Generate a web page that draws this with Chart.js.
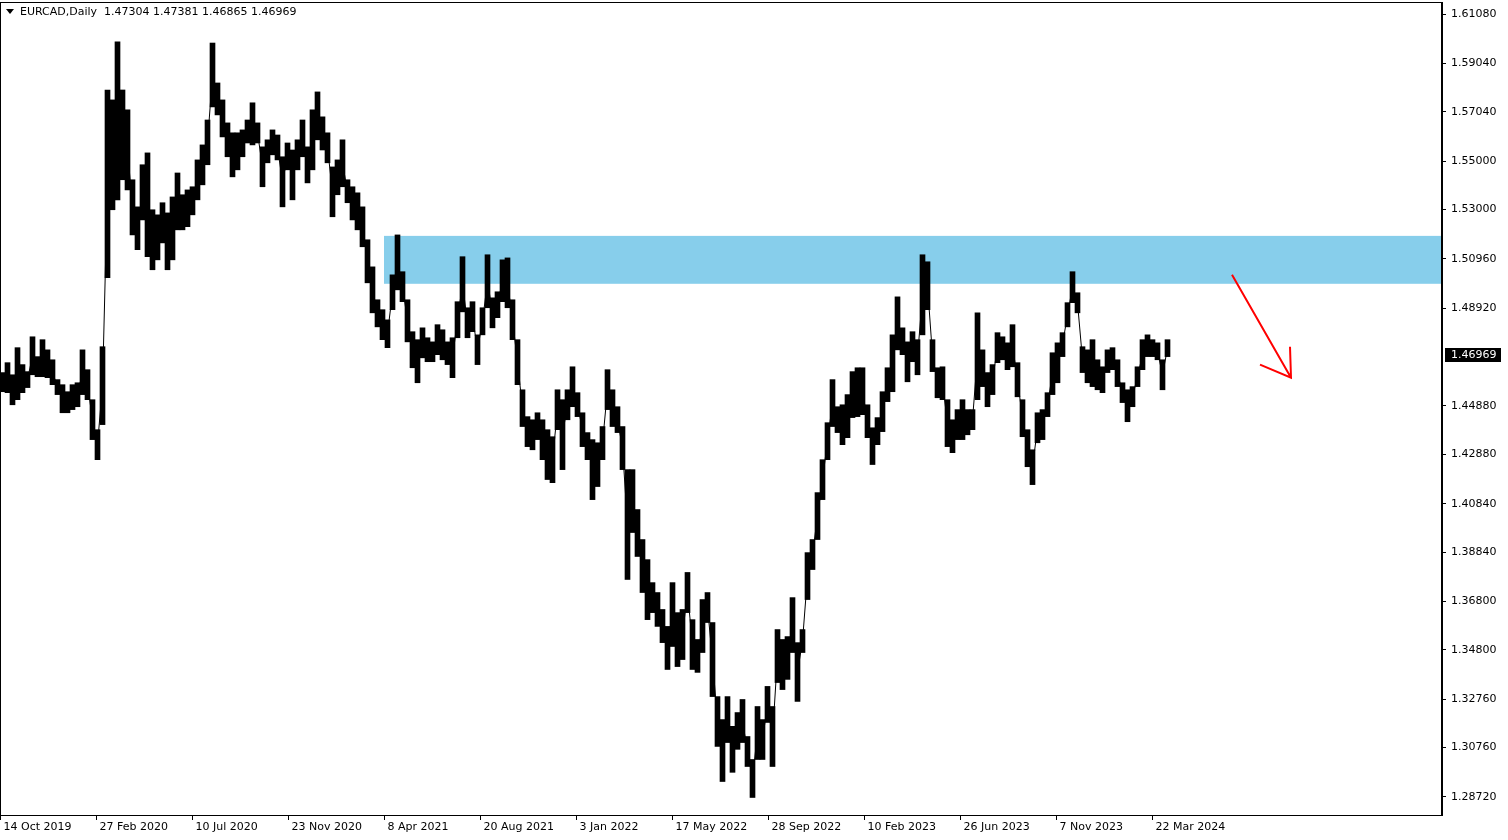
<!DOCTYPE html>
<html>
<head>
<meta charset="utf-8">
<script src="https://cdn.jsdelivr.net/npm/chart.js@4.4.0/dist/chart.umd.min.js"></script>
<style>
html, body { margin: 0; padding: 0; background: #fff; }
#wrap { width: 1508px; height: 840px; }
</style>
</head>
<body>
<div id="wrap"><canvas id="chart" width="1508" height="840"></canvas></div>
<script>
// chart data (one block = 5 daily bars)
const symbol = 'EURCAD,Daily';
const lastBar = ['1.47304', '1.47381', '1.46865', '1.46969'];
const lastClose = 1.46969;
const barStep = 5;

const highs = [
    1.4626,1.4667,1.4617,1.4729,1.4659,1.4630,1.4774,1.4692,1.4762,1.4720,
    1.4679,1.4597,1.4576,1.4547,1.4576,1.4584,1.4720,1.4638,1.4514,1.4390,
    1.4733,1.5794,1.5753,1.5993,1.5794,1.5712,1.5423,1.5311,1.5485,1.5534,
    1.5299,1.5278,1.5328,1.5286,1.5352,1.5451,1.5361,1.5381,1.5394,1.5505,
    1.5567,1.5670,1.5988,1.5823,1.5753,1.5658,1.5617,1.5617,1.5629,1.5670,
    1.5741,1.5658,1.5559,1.5588,1.5629,1.5608,1.5518,1.5575,1.5546,1.5588,
    1.5670,1.5559,1.5712,1.5786,1.5683,1.5617,1.5476,1.5505,1.5588,1.5423,
    1.5394,1.5369,1.5311,1.5175,1.5063,1.4927,1.4886,1.4844,1.5030,1.5195,
    1.5043,1.4927,1.4795,1.4762,1.4811,1.4770,1.4753,1.4824,1.4803,1.4753,
    1.4770,1.4919,1.5105,1.4894,1.4919,1.4782,1.4894,1.5113,1.4935,1.4960,
    1.5092,1.5100,1.4927,1.4762,1.4555,1.4444,1.4431,1.4460,1.4431,1.4390,
    1.4361,1.4555,1.4514,1.4555,1.4650,1.4543,1.4460,1.4378,1.4349,1.4336,
    1.4403,1.4638,1.4555,1.4485,1.4403,1.4225,1.4225,1.4060,1.3936,1.3853,
    1.3758,1.3717,1.3647,1.3577,1.3758,1.3634,1.3647,1.3800,1.3605,1.3523,
    1.3688,1.3717,1.3593,1.3287,1.3192,1.3287,1.3164,1.3221,1.3275,1.3122,
    1.3027,1.3246,1.3192,1.3329,1.3246,1.3564,1.3523,1.3535,1.3696,1.3510,
    1.3564,1.3882,1.3936,1.4130,1.4266,1.4419,1.4597,1.4485,1.4493,1.4535,
    1.4630,1.4646,1.4646,1.4493,1.4398,1.4440,1.4547,1.4646,1.4782,1.4939,
    1.4811,1.4753,1.4795,1.4762,1.5113,1.5084,1.4762,1.4646,1.4650,1.4514,
    1.4431,1.4473,1.4514,1.4473,1.4473,1.4873,1.4720,1.4626,1.4659,1.4791,
    1.4774,1.4749,1.4824,1.4667,1.4514,1.4390,1.4307,1.4460,1.4473,1.4543,
    1.4708,1.4749,1.4791,1.4915,1.5043,1.4956,1.4733,1.4720,1.4762,1.4679,
    1.4650,1.4720,1.4729,1.4679,1.4584,1.4555,1.4568,1.4650,1.4762,1.4782,
    1.4762,1.4749,1.4679,1.4762
];

const lows = [
    1.4547,1.4543,1.4493,1.4514,1.4543,1.4564,1.4617,1.4609,1.4609,1.4605,
    1.4576,1.4535,1.4460,1.4460,1.4473,1.4485,1.4535,1.4514,1.4349,1.4266,
    1.4411,1.5018,1.5299,1.5340,1.5423,1.5381,1.5195,1.5134,1.5257,1.5105,
    1.5051,1.5092,1.5162,1.5051,1.5092,1.5216,1.5216,1.5229,1.5278,1.5340,
    1.5402,1.5485,1.5724,1.5691,1.5600,1.5518,1.5435,1.5464,1.5518,1.5575,
    1.5567,1.5575,1.5394,1.5493,1.5526,1.5505,1.5311,1.5464,1.5340,1.5464,
    1.5518,1.5410,1.5464,1.5588,1.5546,1.5493,1.5270,1.5361,1.5394,1.5328,
    1.5257,1.5216,1.5146,1.4997,1.4873,1.4815,1.4762,1.4729,1.4886,1.4968,
    1.4919,1.4753,1.4646,1.4584,1.4687,1.4671,1.4671,1.4700,1.4679,1.4659,
    1.4605,1.4770,1.4877,1.4770,1.4795,1.4659,1.4782,1.4894,1.4811,1.4853,
    1.4919,1.4894,1.4762,1.4576,1.4403,1.4320,1.4307,1.4349,1.4266,1.4184,
    1.4171,1.4390,1.4225,1.4431,1.4485,1.4444,1.4320,1.4266,1.4101,1.4155,
    1.4266,1.4473,1.4403,1.4378,1.4225,1.3771,1.3965,1.3866,1.3717,1.3605,
    1.3634,1.3577,1.3510,1.3399,1.3494,1.3411,1.3440,1.3634,1.3399,1.3387,
    1.3469,1.3593,1.3287,1.3081,1.2936,1.3097,1.2974,1.3069,1.3097,1.2998,
    1.2870,1.3027,1.3027,1.3180,1.2998,1.3345,1.3316,1.3358,1.3469,1.3267,
    1.3469,1.3688,1.3812,1.3936,1.4101,1.4266,1.4403,1.4378,1.4328,1.4357,
    1.4440,1.4444,1.4452,1.4357,1.4246,1.4328,1.4382,1.4506,1.4547,1.4720,
    1.4700,1.4588,1.4671,1.4617,1.4782,1.4886,1.4630,1.4522,1.4514,1.4320,
    1.4295,1.4349,1.4349,1.4369,1.4390,1.4514,1.4568,1.4485,1.4535,1.4667,
    1.4679,1.4638,1.4650,1.4526,1.4361,1.4237,1.4163,1.4336,1.4349,1.4444,
    1.4535,1.4584,1.4692,1.4815,1.4915,1.4873,1.4626,1.4584,1.4568,1.4555,
    1.4543,1.4626,1.4638,1.4568,1.4502,1.4423,1.4485,1.4568,1.4638,1.4692,
    1.4692,1.4679,1.4555,1.4692
];

// axes
const dateLabels = ['14 Oct 2019', '27 Feb 2020', '10 Jul 2020', '23 Nov 2020', '8 Apr 2021',
    '20 Aug 2021', '3 Jan 2022', '17 May 2022', '28 Sep 2022', '10 Feb 2023',
    '26 Jun 2023', '7 Nov 2023', '22 Mar 2024'];
const dateBars = [0, 96, 192, 288, 384, 480, 576, 672, 768, 864, 960, 1056, 1152];
const priceTicks = [1.61080, 1.59040, 1.57040, 1.55000, 1.53000, 1.50960, 1.48920,
    1.44880, 1.42880, 1.40840, 1.38840, 1.36800, 1.34800, 1.32760, 1.30760, 1.28720];
const priceMin = 1.27976;
const priceMax = 1.61576;
const barsShown = 1442;

// resistance zone and the drawn arrow
const zoneFromBar = 384;
const zoneTop = 1.5191;
const zoneBottom = 1.4993;
const arrowBars = [1232, 1291];
const arrowPrices = [1.5030, 1.4605];
const headBars = [1290, 1260];
const headPrices = [1.4733, 1.4659];

const font = '11px "DejaVu Sans"';

const blocks = highs.map((h, i) => ({ x: i * barStep + barStep / 2, y: [lows[i], h] }));
const mids = highs.map((h, i) => ({ x: i * barStep + barStep / 2, y: (h + lows[i]) / 2 }));

const decorPlugin = {
    id: 'decor',
    beforeDatasetsDraw(chart) {
        const { ctx, chartArea: a, scales: { x, y } } = chart;
        const zx = x.getPixelForValue(zoneFromBar);
        const zt = y.getPixelForValue(zoneTop);
        const zb = y.getPixelForValue(zoneBottom);
        ctx.save();
        ctx.fillStyle = '#87ceeb';
        ctx.fillRect(zx, zt, a.right - zx, zb - zt);
        ctx.restore();
    },
    afterDraw(chart) {
        const { ctx, chartArea: a, scales: { x, y } } = chart;
        ctx.save();

        // frame
        ctx.strokeStyle = '#000';
        ctx.lineWidth = 1;
        ctx.strokeRect(a.left + 0.5, a.top + 0.5, a.right - a.left - 1, a.bottom - a.top);

        // date axis
        ctx.fillStyle = '#000';
        ctx.font = font;
        ctx.textAlign = 'left';
        ctx.textBaseline = 'middle';
        dateBars.forEach((b, i) => {
            const px = Math.round(x.getPixelForValue(b)) + 0.5;
            ctx.beginPath();
            ctx.moveTo(px, a.bottom);
            ctx.lineTo(px, a.bottom + 5);
            ctx.stroke();
            ctx.fillText(dateLabels[i], px + 3, a.bottom + 12);
        });

        // arrow
        ctx.strokeStyle = '#ff0000';
        ctx.lineWidth = 2;
        const tipX = x.getPixelForValue(arrowBars[1]);
        const tipY = y.getPixelForValue(arrowPrices[1]);
        ctx.beginPath();
        ctx.moveTo(x.getPixelForValue(arrowBars[0]), y.getPixelForValue(arrowPrices[0]));
        ctx.lineTo(tipX, tipY);
        ctx.moveTo(x.getPixelForValue(headBars[0]), y.getPixelForValue(headPrices[0]));
        ctx.lineTo(tipX, tipY);
        ctx.lineTo(x.getPixelForValue(headBars[1]), y.getPixelForValue(headPrices[1]));
        ctx.stroke();

        // current price label
        const py = Math.round(y.getPixelForValue(lastClose));
        ctx.fillStyle = '#000';
        ctx.fillRect(a.right + 3, py - 7, 56, 14);
        ctx.fillStyle = '#fff';
        ctx.fillText(lastClose.toFixed(5), a.right + 9, py);

        // title
        ctx.fillStyle = '#000';
        ctx.beginPath();
        ctx.moveTo(6, 9);
        ctx.lineTo(14, 9);
        ctx.lineTo(10, 14);
        ctx.closePath();
        ctx.fill();
        ctx.fillText(symbol + '  ' + lastBar.join(' '), 20, 12);

        ctx.restore();
    }
};

new Chart(document.getElementById('chart'), {
    type: 'bar',
    data: {
        datasets: [{
            type: 'line',
            data: mids,
            borderColor: '#000',
            borderWidth: 1,
            pointRadius: 0,
            tension: 0
        }, {
            data: blocks,
            backgroundColor: '#000',
            borderWidth: 0,
            barThickness: barStep,
            grouped: false
        }]
    },
    options: {
        responsive: false,
        animation: false,
        layout: { padding: { top: 2, left: 0, right: 0, bottom: 25 } },
        plugins: { legend: { display: false }, tooltip: { enabled: false } },
        scales: {
            x: {
                type: 'linear',
                min: 0,
                max: barsShown,
                offset: false,
                display: false
            },
            y: {
                position: 'right',
                min: priceMin,
                max: priceMax,
                afterFit(scale) {
                    scale.width = 66;
                    scale.paddingTop = 0;
                    scale.paddingBottom = 0;
                },
                afterBuildTicks(scale) { scale.ticks = priceTicks.map(v => ({ value: v })); },
                ticks: {
                    autoSkip: false,
                    color: '#000',
                    font: { family: 'DejaVu Sans', size: 11 },
                    padding: 5,
                    callback: v => v.toFixed(5)
                },
                grid: { drawOnChartArea: false, tickLength: 4, tickColor: '#000' },
                border: { color: '#000' }
            }
        }
    },
    plugins: [decorPlugin]
});
</script>
</body>
</html>
